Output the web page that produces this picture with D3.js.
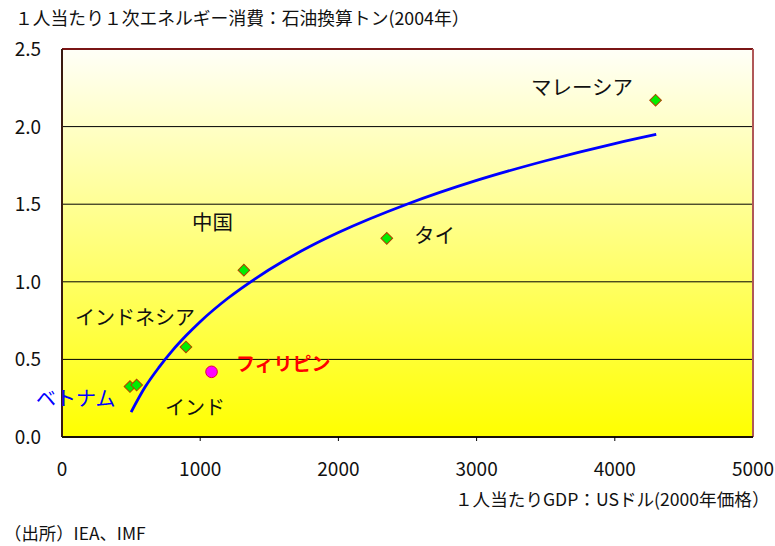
<!DOCTYPE html>
<html><head><meta charset="utf-8">
<script src="https://cdn.jsdelivr.net/npm/d3@7"></script>
<style>body{margin:0;background:#fff}text{font-family:"Noto Sans CJK JP","Noto Sans",sans-serif}</style>
</head><body><svg id="c" width="775" height="546"></svg>
<script>
const countries = ["マレーシア","タイ","中国","インドネシア","ベトナム","インド"];
const gdp = [4295, 2350, 1316, 897, 492, 540];
const energy = [2.17, 1.28, 1.075, 0.58, 0.325, 0.335];
const phName = "フィリピン";
const phGdp = [1082];
const phEnergy = [0.42];
const trendX = [500, 600, 700, 800, 900, 1000, 1200, 1400, 1600, 1800, 2000, 2500, 3000, 3500, 4000, 4300];
const trendY = [0.16, 0.32, 0.447, 0.558, 0.655, 0.743, 0.894, 1.021, 1.132, 1.23, 1.317, 1.501, 1.653, 1.78, 1.891, 1.95];
const xTicks = [0, 1000, 2000, 3000, 4000, 5000];
const yTicks = [0, 0.5, 1.0, 1.5, 2.0, 2.5];

const svg = d3.select("#c");
const L = 62, R = 753, T = 49, B = 437;
const x = d3.scaleLinear().domain([0, 5000]).range([L, R]);
const y = d3.scaleLinear().domain([0, 2.5]).range([B, T]);

const defs = svg.append("defs");
const g = defs.append("linearGradient").attr("id","bg").attr("x1",0).attr("y1",0).attr("x2",0).attr("y2",1);
g.append("stop").attr("offset","0%").attr("stop-color","#fffff8");
g.append("stop").attr("offset","100%").attr("stop-color","#ffff00");

svg.append("rect").attr("x",L).attr("y",T).attr("width",R-L).attr("height",B-T).attr("fill","url(#bg)");

// gridlines
svg.append("g").selectAll("line").data(yTicks.filter(d=>d>0&&d<2.5)).join("line")
  .attr("x1",L).attr("x2",R).attr("y1",d=>y(d)).attr("y2",d=>y(d))
  .attr("stroke","#000").attr("stroke-width",1);

// border
svg.append("line").attr("x1",L).attr("x2",R).attr("y1",T).attr("y2",T).attr("stroke","#7a1515").attr("stroke-width",2);
svg.append("line").attr("x1",R).attr("x2",R).attr("y1",T).attr("y2",B).attr("stroke","#b05858").attr("stroke-width",2);
svg.append("line").attr("x1",L).attr("x2",L).attr("y1",T).attr("y2",B).attr("stroke","#3a1a10").attr("stroke-width",2);
svg.append("line").attr("x1",L).attr("x2",R).attr("y1",B).attr("y2",B).attr("stroke","#1a1008").attr("stroke-width",2);

// x ticks
svg.append("g").selectAll("line").data(xTicks.slice(1,-1)).join("line")
  .attr("x1",d=>x(d)).attr("x2",d=>x(d)).attr("y1",B).attr("y2",B+4).attr("stroke","#000");
svg.append("g").selectAll("text").data(xTicks).join("text")
  .attr("x",d=>x(d)).attr("y",476).attr("text-anchor","middle").attr("font-size",19).attr("fill","#111")
  .text(d=>d);
svg.append("g").selectAll("text").data(yTicks).join("text")
  .attr("x",41).attr("y",d=>y(d)+7).attr("text-anchor","end").attr("font-size",19).attr("fill","#111")
  .text(d=>d3.format(".1f")(d));

// trend line
const line = d3.line().x(d=>x(d[0])).y(d=>y(d[1])).curve(d3.curveMonotoneX);
svg.append("path").datum(trendX.map((v,i)=>[v,trendY[i]])).attr("d",line)
  .attr("fill","none").attr("stroke","#0000ff").attr("stroke-width",2.8);

// diamonds
svg.append("g").selectAll("path").data(gdp.map((v,i)=>[v,energy[i]])).join("path")
  .attr("d",d3.symbol().type(d3.symbolSquare).size(68))
  .attr("transform",d=>`translate(${x(d[0])},${y(d[1])}) rotate(45)`)
  .attr("fill","#00ee00").attr("stroke","#b04000").attr("stroke-width",1);

// philippines
svg.append("g").selectAll("circle").data(phGdp.map((v,i)=>[v,phEnergy[i]])).join("circle")
  .attr("cx",d=>x(d[0])).attr("cy",d=>y(d[1])).attr("r",5.8)
  .attr("fill","#ff00ff").attr("stroke","#e00040").attr("stroke-width",1);

// labels
const labels = [
  {t:"マレーシア", x:531, y:95, c:"#111", w:"normal", s:20.5},
  {t:"中国", x:192, y:230, c:"#111", w:"normal", s:20.5},
  {t:"タイ", x:414, y:243, c:"#111", w:"normal", s:20.5},
  {t:"インドネシア", x:75, y:325, c:"#111", w:"normal", s:20},
  {t:phName, x:236, y:371, c:"#ff0000", w:"bold", s:19},
  {t:"ベトナム", x:36, y:406, c:"#0000ff", w:"normal", s:20},
  {t:"インド", x:165, y:415, c:"#111", w:"normal", s:20}
];
svg.append("g").selectAll("text").data(labels).join("text")
  .attr("x",d=>d.x).attr("y",d=>d.y).attr("font-size",d=>d.s).attr("fill",d=>d.c).attr("font-weight",d=>d.w)
  .text(d=>d.t);

svg.append("text").attr("x",15).attr("y",25).attr("font-size",17.8).attr("fill","#111")
  .text("１人当たり１次エネルギー消費：石油換算トン(2004年）");
svg.append("text").attr("x",455).attr("y",506).attr("font-size",17.6).attr("fill","#111")
  .text("１人当たりGDP：USドル(2000年価格）");
svg.append("text").attr("x",4).attr("y",540).attr("font-size",17.4).attr("fill","#111")
  .text("（出所）IEA、IMF");
</script></body></html>
